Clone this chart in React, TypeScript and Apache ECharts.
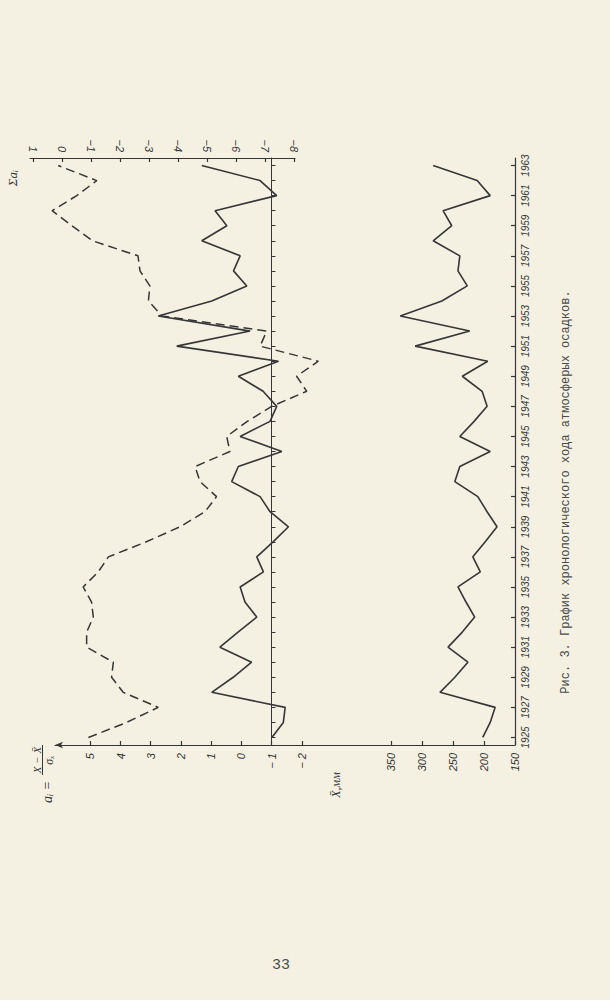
import React, { useEffect, useRef } from "react";
import * as echarts from "echarts";

// Years (vertical axis of the rotated page)
const years = [
  1925, 1926, 1927, 1928, 1929, 1930, 1931, 1932, 1933, 1934,
  1935, 1936, 1937, 1938, 1939, 1940, 1941, 1942, 1943, 1944,
  1945, 1946, 1947, 1948, 1949, 1950, 1951, 1952, 1953, 1954,
  1955, 1956, 1957, 1958, 1959, 1960, 1961, 1962, 1963,
];
const yearLabels = [
  1925, 1927, 1929, 1931, 1933, 1935, 1937, 1939, 1941, 1943,
  1945, 1947, 1949, 1951, 1953, 1955, 1957, 1959, 1961, 1963,
];

// Tick labels
const aiTicks = [5, 4, 3, 2, 1, 0, -1, -2];
const sumTicks = [1, 0, -1, -2, -3, -4, -5, -6, -7, -8];
const precipTicks = [150, 200, 250, 300, 350];

// a_i = (X - X̄)/σ  (solid line, upper panel)
const aiValues = [
  -1.01, -1.39, -1.45, 0.98, 0.27, -0.34, 0.71, 0.11, -0.51, -0.12,
  0.04, -0.73, -0.51, -1.05, -1.56, -0.95, -0.62, 0.32, 0.1, -1.34,
  0.04, -0.95, -1.17, -0.72, 0.1, -1.23, 2.14, -0.29, 2.75, 0.98,
  -0.18, 0.26, 0.04, 1.31, 0.48, 0.87, -1.17, -0.62, 1.31,
];

// Σ a_i (dashed line)
const sumValues = [
  -0.91, -2.23, -3.32, -2.11, -1.71, -1.77, -0.85, -0.85, -1.08, -1.02,
  -0.73, -1.25, -1.6, -2.91, -4.07, -4.93, -5.33, -4.76, -4.59, -5.79,
  -5.68, -6.39, -7.23, -8.44, -8.09, -8.84, -6.83, -7.06, -3.45, -2.98,
  -3.03, -2.69, -2.62, -1.05, -0.34, 0.34, -0.51, -1.2, 0.13,
];

// Precipitation, mm (lower panel)
const precipValues = [
  202, 190, 182, 271, 247, 226, 258, 235, 215, 229,
  242, 206, 218, 198, 179, 195, 210, 247, 239, 190,
  239, 216, 195, 203, 235, 194, 311, 223, 335, 268,
  227, 242, 239, 282, 252, 266, 190, 211, 282,
];

const INK = "#363636";
const PAPER = "#f4f1e2";
const LABEL_FONT = "'Liberation Sans Narrow', 'Liberation Sans', sans-serif";

export default function App() {
  const ref = useRef<HTMLDivElement>(null);

  useEffect(() => {
    const chart = echarts.init(ref.current as HTMLDivElement, null, { renderer: "svg" });
    const axisLineStyle = { color: INK, width: 1.2 };
    const label = {
      fontFamily: LABEL_FONT,
      fontStyle: "italic",
      fontSize: 11,
      color: INK,
    };
    const yRange = { min: 1924.5, max: 1963.5 };
    const neg = (v: number) => (v < 0 ? "− " + Math.abs(v) : String(v));

    chart.setOption({
      animation: false,
      backgroundColor: PAPER,
      grid: [
        // 0: a_i panel (full width, shares bottom line)
        { left: 55, top: 158, width: 460, height: 587, outerBoundsMode: "none" },
        // 1: precipitation panel
        { left: 360, top: 158, width: 155, height: 587, outerBoundsMode: "none" },
        // 2: Σ a_i data grid (wide, so the dashed line is never cut)
        { left: 30, top: 158, width: 330, height: 587, outerBoundsMode: "none" },
        // 3: Σ a_i visible top scale
        { left: 30, top: 158, width: 265, height: 587, outerBoundsMode: "none" },
      ],
      xAxis: [
        {
          gridIndex: 0,
          type: "value",
          position: "bottom",
          inverse: true,
          min: -9.06,
          max: 6.17,
          axisLine: {
            show: true,
            onZero: false,
            symbol: ["arrow", "none"],
            symbolSize: [5, 8],
            lineStyle: axisLineStyle,
          },
          axisTick: { show: true, inside: true, length: 4, customValues: aiTicks, lineStyle: axisLineStyle },
          axisLabel: { show: true, customValues: aiTicks, rotate: 90, margin: 8, formatter: neg, ...label },
          splitLine: { show: false },
        },
        {
          gridIndex: 1,
          type: "value",
          position: "bottom",
          inverse: true,
          min: 150,
          max: 400,
          axisLine: { show: false, onZero: false },
          axisTick: { show: true, inside: true, length: 4, customValues: precipTicks, lineStyle: axisLineStyle },
          axisLabel: { show: true, customValues: precipTicks, rotate: 90, margin: 8, formatter: (v: number) => String(v), ...label },
          splitLine: { show: false },
        },
        {
          gridIndex: 2,
          type: "value",
          show: false,
          inverse: true,
          min: -10.276,
          max: 1.103,
        },
        {
          gridIndex: 3,
          type: "value",
          position: "top",
          inverse: true,
          min: -8.035,
          max: 1.103,
          axisLine: { show: true, onZero: false, lineStyle: axisLineStyle },
          axisTick: { show: true, inside: true, length: 4, customValues: sumTicks, lineStyle: axisLineStyle },
          axisLabel: {
            show: true,
            customValues: sumTicks,
            rotate: 90,
            margin: 6,
            formatter: (v: number) => (v < 0 ? "−" + Math.abs(v) : String(v)),
            ...label,
          },
          splitLine: { show: false },
        },
      ],
      yAxis: [
        {
          gridIndex: 0,
          type: "value",
          position: "right",
          ...yRange,
          axisLine: { show: true, onZero: false, lineStyle: axisLineStyle },
          axisTick: { show: true, inside: true, length: 4, customValues: yearLabels, lineStyle: axisLineStyle },
          axisLabel: {
            show: true,
            customValues: yearLabels,
            rotate: 90,
            margin: 5,
            formatter: (v: number) => String(v),
            ...label,
            fontSize: 10,
          },
          splitLine: { show: false },
        },
        {
          gridIndex: 0,
          type: "value",
          position: "left",
          offset: -216.5,
          ...yRange,
          axisLine: { show: true, onZero: false, lineStyle: { color: INK, width: 1 } },
          axisTick: { show: true, inside: true, length: 4, customValues: years, lineStyle: { color: INK, width: 1 } },
          axisLabel: { show: false },
          splitLine: { show: false },
        },
        { gridIndex: 1, type: "value", show: false, ...yRange },
        { gridIndex: 2, type: "value", show: false, ...yRange },
        { gridIndex: 3, type: "value", show: false, ...yRange },
      ],
      series: [
        {
          name: "a_i",
          type: "line",
          xAxisIndex: 0,
          yAxisIndex: 0,
          data: years.map((y, i) => [aiValues[i], y]),
          symbol: "none",
          clip: false,
          lineStyle: { color: INK, width: 1.6 },
        },
        {
          name: "sum",
          type: "line",
          xAxisIndex: 2,
          yAxisIndex: 3,
          data: years.map((y, i) => [sumValues[i], y]),
          symbol: "none",
          clip: false,
          lineStyle: { color: INK, width: 1.5, type: [9, 5] },
        },
        {
          name: "precip",
          type: "line",
          xAxisIndex: 1,
          yAxisIndex: 2,
          data: years.map((y, i) => [precipValues[i], y]),
          symbol: "none",
          clip: false,
          lineStyle: { color: INK, width: 1.6 },
        },
      ],
      graphic: [
        {
          type: "text",
          x: 12,
          y: 178,
          rotation: Math.PI / 2,
          style: {
            text: "Σaᵢ",
            font: "italic 13px 'Liberation Serif', serif",
            fill: INK,
            align: "center",
            verticalAlign: "middle",
          },
        },
        {
          type: "group",
          x: 47,
          y: 803,
          rotation: Math.PI / 2,
          children: [
            {
              type: "text",
              x: 0,
              y: 0,
              style: { text: "aᵢ =", font: "italic 14px 'Liberation Serif', serif", fill: INK, align: "left", verticalAlign: "middle" },
            },
            {
              type: "text",
              x: 43,
              y: -10,
              style: { text: "X − X̄", font: "italic 11px 'Liberation Serif', serif", fill: INK, align: "center", verticalAlign: "middle" },
            },
            {
              type: "line",
              shape: { x1: 28, y1: -4.5, x2: 58, y2: -4.5 },
              style: { stroke: INK, lineWidth: 1 },
            },
            {
              type: "text",
              x: 43,
              y: 2,
              style: { text: "σₓ", font: "italic 12px 'Liberation Serif', serif", fill: INK, align: "center", verticalAlign: "middle" },
            },
          ],
        },
        {
          type: "text",
          x: 336,
          y: 785,
          rotation: Math.PI / 2,
          style: {
            text: "X̄,мм",
            font: "italic 12px 'Liberation Serif', serif",
            fill: INK,
            align: "center",
            verticalAlign: "middle",
          },
        },
        {
          type: "text",
          x: 566,
          y: 492,
          rotation: Math.PI / 2,
          style: {
            text: "Рис. 3. График хронологического хода атмосферых осадков.",
            font: "12px 'Liberation Mono', monospace",
            fill: "#4a4a4a",
            align: "center",
            verticalAlign: "middle",
          },
        },
        {
          type: "text",
          x: 281,
          y: 965,
          style: {
            text: "33",
            font: "15px 'Liberation Mono', monospace",
            fill: "#4a4a4a",
            align: "center",
            verticalAlign: "middle",
          },
        },
      ],
    });

    return () => {
      chart.dispose();
    };
  }, []);

  return (
    <div
      ref={ref}
      style={{ position: "fixed", left: 0, top: 0, width: 610, height: 1000, background: PAPER }}
    />
  );
}
